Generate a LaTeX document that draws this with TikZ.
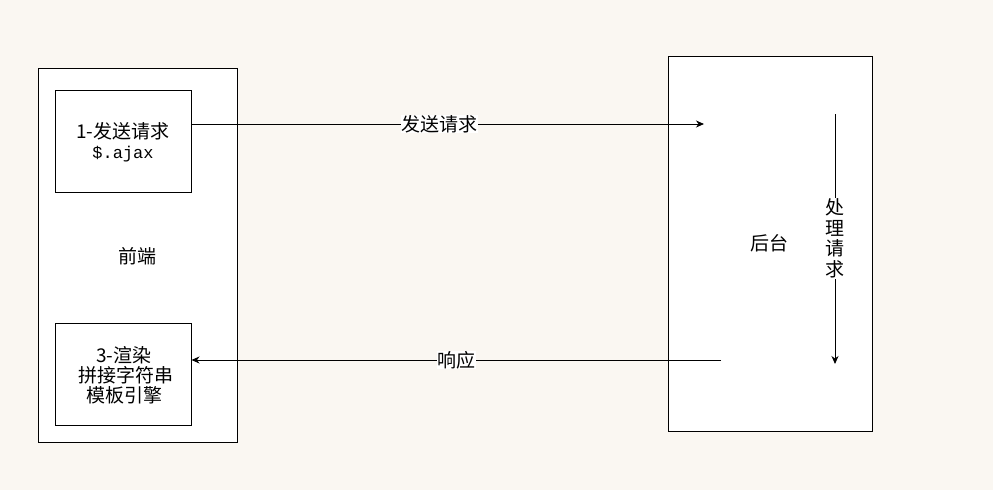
\documentclass[tikz,border=0pt]{standalone}
\usepackage{fontspec}
\setmainfont{Noto Sans CJK SC}
\newfontfamily\monofont{Liberation Mono}
\usetikzlibrary{arrows.meta,calc}
\definecolor{bg}{HTML}{FAF7F2}
\tikzset{
  boxnode/.style={draw=black, fill=white, line width=1pt, inner sep=0pt},
  conn/.style={line width=1pt, -{Stealth[length=8pt,width=7pt,inset=2.5pt]}},
  lbl/.style={fill=white, inner sep=0.5pt, font=\fontsize{19}{21}\selectfont},
  txt/.style={font=\fontsize{19}{21}\selectfont, align=center}
}
\begin{document}
\begin{tikzpicture}[x=1pt,y=-1pt]
\fill[bg] (0,0) rectangle (993,490);
\useasboundingbox (0,0) rectangle (993,490);
\node[boxnode, minimum width=199pt, minimum height=374pt] (front) at (137.5,255) {};
\node[txt] (frontlbl) at (137,256) {前端};
\node[boxnode, minimum width=136pt, minimum height=102pt] (box1) at (123,141) {};
\node[txt, font=\fontsize{19}{20}\selectfont] (box1txt) at (123,142) {1-发送请求\\{\monofont\fontsize{17}{20}\selectfont\$.ajax}};
\node[boxnode, minimum width=136pt, minimum height=102pt] (box3) at (123,374) {};
\node[txt, font=\fontsize{19}{20}\selectfont] (box3txt) at (124,375) {3-渲染\\\ 拼接字符串\\模板引擎};
\node[boxnode, minimum width=204pt, minimum height=375pt] (back) at (770,243.5) {};
\node[txt] (backlbl) at (769,243) {后台};
\coordinate (reqEnd) at (704,124);
\coordinate (respStart) at (721,360);
\coordinate (procTop) at (835,114);
\coordinate (procBot) at (835,364);
\draw[conn] (box1.east |- reqEnd) -- node[lbl, pos=0.484] (reqlbl) {发送请求} (reqEnd);
\draw[conn] (respStart) -- node[lbl, pos=0.500] (resplbl) {响应} (box3.east |- respStart);
\draw[conn] (procTop) -- node[lbl, pos=0.497, align=center, font=\fontsize{19}{20.7}\selectfont] (proclbl) {处\\理\\请\\求} (procBot);
\end{tikzpicture}
\end{document}
